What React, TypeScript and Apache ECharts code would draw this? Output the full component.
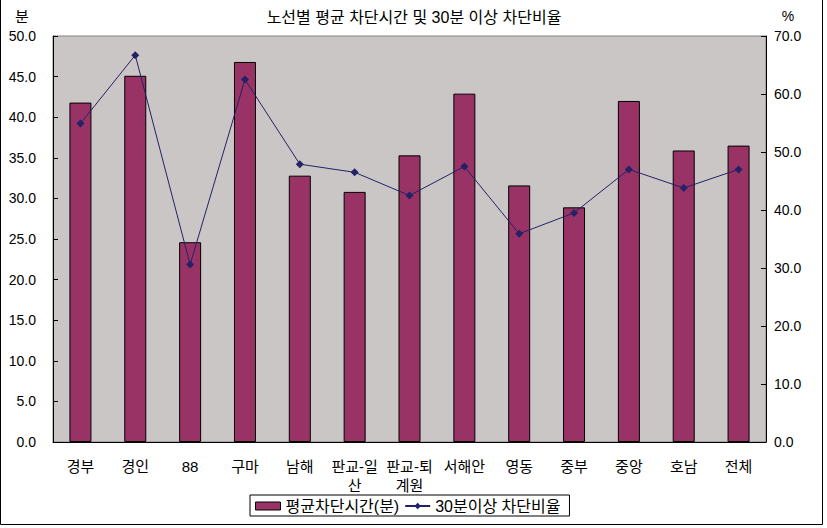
import React, { useEffect, useRef } from "react";
import * as echarts from "echarts";

const categories = ["경부", "경인", "88", "구마", "남해", "판교-일산", "판교-퇴계원", "서해안", "영동", "중부", "중앙", "호남", "전체"];
const avgTime = [41.8, 45.1, 24.6, 46.8, 32.8, 30.8, 35.3, 42.9, 31.6, 28.9, 42.0, 35.9, 36.5];
const over30Ratio = [54.9, 66.7, 30.6, 62.5, 47.9, 46.5, 42.5, 47.5, 35.9, 39.5, 47.0, 43.8, 47.0];
const seriesNames = ["평균차단시간(분)", "30분이상 차단비율"];
const titleText = "노선별 평균 차단시간 및 30분 이상 차단비율";

const FONT = '"Liberation Sans", "Noto Sans CJK KR", sans-serif';
const NUMFONT = '"Liberation Sans", Arial, sans-serif';

export default function App() {
  const ref = useRef<HTMLDivElement>(null);
  useEffect(() => {
    if (!ref.current) return;
    const chart = echarts.init(ref.current, null, { renderer: "svg" });
    chart.setOption({
      animation: false,
      backgroundColor: "#ffffff",
      grid: {
        left: 53,
        top: 36,
        width: 713,
        height: 406,
        show: true,
        backgroundColor: "#CAC6C5",
        borderColor: "#808080",
        borderWidth: 1,
      },
      graphic: [
        { type: "text", x: 414, y: 17, style: { text: titleText, font: `16px ${FONT}`, fill: "#000", align: "center", verticalAlign: "middle" } },
        { type: "text", x: 22, y: 16, style: { text: "분", font: `15px ${FONT}`, fill: "#000", align: "center", verticalAlign: "middle" } },
        { type: "text", x: 788, y: 16, style: { text: "%", font: `14px ${NUMFONT}`, fill: "#000", align: "center", verticalAlign: "middle" } },
        { type: "polyline", shape: { points: [[0.5, 0], [0.5, 524.5], [822.5, 524.5], [822.5, 0]] }, style: { stroke: "#000", lineWidth: 1, fill: "none" } },
      ],
      legend: {
        left: 250,
        top: 495,
        orient: "horizontal",
        borderColor: "#000",
        borderWidth: 1,
        borderRadius: 0,
        padding: [3, 9, 2, 5],
        itemGap: 5,
        itemWidth: 25,
        itemHeight: 8,
        backgroundColor: "#fff",
        textStyle: { fontFamily: FONT, fontSize: 16, color: "#000" },
        data: [
          { name: seriesNames[0], icon: "rect", itemStyle: { color: "#993366", borderColor: "#000", borderWidth: 1 } },
          { name: seriesNames[1] },
        ],
      },
      xAxis: {
        type: "category",
        data: categories,
        axisLine: { lineStyle: { color: "#000", width: 1 } },
        axisTick: { inside: true, length: 5, lineStyle: { color: "#000" } },
        axisLabel: {
          interval: 0,
          margin: 15,
          fontFamily: FONT,
          fontSize: 15,
          color: "#000",
          lineHeight: 19,
          formatter: (v: string) => (v.length > 4 ? v.slice(0, 4) + "\n" + v.slice(4) : v),
        },
        splitLine: { show: false },
      },
      yAxis: [
        {
          type: "value",
          min: 0,
          max: 50,
          interval: 5,
          position: "left",
          axisLine: { show: true, lineStyle: { color: "#000", width: 1 } },
          axisTick: { show: true, inside: true, length: 5, lineStyle: { color: "#000" } },
          axisLabel: { margin: 17, fontFamily: NUMFONT, fontSize: 14, color: "#000", formatter: (v: number) => v.toFixed(1) },
          splitLine: { show: false },
        },
        {
          type: "value",
          min: 0,
          max: 70,
          interval: 10,
          position: "right",
          axisLine: { show: true, lineStyle: { color: "#000", width: 1 } },
          axisTick: { show: true, inside: true, length: 5, lineStyle: { color: "#000" } },
          axisLabel: { margin: 8, fontFamily: NUMFONT, fontSize: 14, color: "#000", formatter: (v: number) => v.toFixed(1) },
          splitLine: { show: false },
        },
      ],
      series: [
        {
          name: seriesNames[0],
          type: "bar",
          data: avgTime,
          yAxisIndex: 0,
          barWidth: 22,
          itemStyle: { color: "#993366", borderColor: "#000", borderWidth: 1 },
        },
        {
          name: seriesNames[1],
          type: "line",
          data: over30Ratio,
          yAxisIndex: 1,
          symbol: "diamond",
          symbolSize: 8,
          itemStyle: { color: "#222266" },
          lineStyle: { color: "#222266", width: 1 },
        },
      ],
    });
    return () => chart.dispose();
  }, []);
  return <div ref={ref} style={{ position: "fixed", left: 0, top: 0, width: 827, height: 528 }} />;
}
